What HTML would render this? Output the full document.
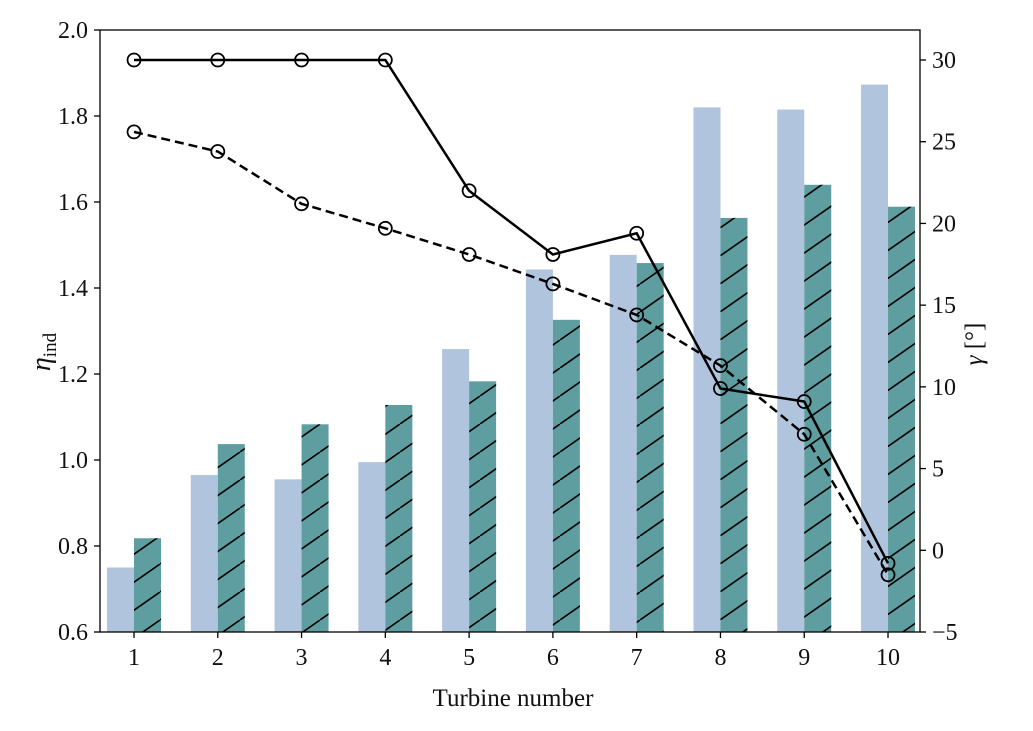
<!DOCTYPE html>
<html><head><meta charset="utf-8"><style>
body{margin:0;background:#fff}
svg text{font-family:"Liberation Serif",serif;fill:#111}
</style></head><body>
<svg id="chart" width="1033" height="726" xmlns="http://www.w3.org/2000/svg">
<defs>
<pattern id="hatch" patternUnits="userSpaceOnUse" width="40" height="28" x="0" y="4">
<path d="M0,28 L40,0 M-40,28 L0,0 M40,28 L80,0" stroke="#000" stroke-width="1.6"/>
</pattern>
</defs>
<g id="bars"></g><g id="lines"></g><g id="axes"></g>
</svg>
<script>
const turbines=[1,2,3,4,5,6,7,8,9,10];
const etaBlue=[0.75,0.965,0.955,0.995,1.258,1.443,1.477,1.82,1.815,1.873];
const etaTeal=[0.818,1.037,1.083,1.128,1.183,1.326,1.458,1.563,1.64,1.589];
const gammaSolid=[30,30,30,30,22.0,18.1,19.4,9.9,9.1,-0.8];
const gammaDashed=[25.6,24.4,21.2,19.7,18.1,16.3,14.4,11.3,7.1,-1.5];
const leftTicks=[0.6,0.8,1.0,1.2,1.4,1.6,1.8,2.0];
const rightTicks=[-5,0,5,10,15,20,25,30];
const L=100,R=920,T=30,B=632;
const x=v=>134+(v-1)*83.78;
const yL=v=>B-(v-0.6)/1.4*(B-T);
const yR=v=>B-(v+5)*16.343;
const NS="http://www.w3.org/2000/svg";
function mk(tag,attrs,parent){const e=document.createElementNS(NS,tag);for(const k in attrs)e.setAttribute(k,attrs[k]);parent.appendChild(e);return e;}
const bars=document.getElementById('bars'),lines=document.getElementById('lines'),axes=document.getElementById('axes');
const bw=27;
turbines.forEach((t,i)=>{
 let b=mk('rect',{x:x(t)-bw,y:yL(etaBlue[i]),width:bw,height:B-yL(etaBlue[i]),fill:'#b0c4de'},bars);
 
 
 let c=mk('rect',{x:x(t),y:yL(etaTeal[i]),width:bw,height:B-yL(etaTeal[i]),fill:'#5f9ea0'},bars);
 
 
 let h=mk('rect',{x:x(t),y:yL(etaTeal[i]),width:bw,height:B-yL(etaTeal[i]),fill:'url(#hatch)'},bars);
 
 
});
function series(vals,dash,name){
 const p=mk('polyline',{points:turbines.map((t,i)=>x(t)+','+yR(vals[i])).join(' '),fill:'none',stroke:'#000','stroke-width':2.5,'stroke-dasharray':dash},lines);
 
 
 turbines.forEach((t,i)=>{
  const m=mk('circle',{cx:x(t),cy:yR(vals[i]),r:6.5,fill:'none',stroke:'#000','stroke-width':1.8},lines);
  
  
 });
}
series(gammaDashed,'9,5','gamma-dashed');
series(gammaSolid,'none','gamma-solid');
const frame=mk('rect',{x:L,y:T,width:R-L,height:B-T,fill:'none',stroke:'#000','stroke-width':1.3},axes);


leftTicks.forEach(v=>{
 mk('line',{x1:L-6,x2:L,y1:yL(v),y2:yL(v),stroke:'#000','stroke-width':1.3},axes);
 const t=mk('text',{x:L-12,y:yL(v)+8,'text-anchor':'end','font-size':24},axes);
 t.textContent=v.toFixed(1);
 
 
});
rightTicks.forEach(v=>{
 mk('line',{x1:R,x2:R+6,y1:yR(v),y2:yR(v),stroke:'#000','stroke-width':1.3},axes);
 const t=mk('text',{x:R+12,y:yR(v)+8,'font-size':24},axes);
 t.textContent=v<0?'\u2212'+(-v):String(v);
 
 
});
turbines.forEach(v=>{
 mk('line',{x1:x(v),x2:x(v),y1:B,y2:B+6,stroke:'#000','stroke-width':1.3},axes);
 const t=mk('text',{x:x(v),y:B+33,'text-anchor':'middle','font-size':24},axes);
 t.textContent=v;
 
 
});
</script>
<svg style="position:absolute;left:0;top:0" width="1033" height="726" xmlns="http://www.w3.org/2000/svg">
<text x="513" y="706" text-anchor="middle" font-size="25" style="font-family:'Liberation Serif',serif">Turbine number</text>
<text transform="translate(50,352) rotate(-90)" text-anchor="middle" font-size="28" style="font-family:'Liberation Serif',serif;font-style:italic">η<tspan font-size="19" font-style="normal" dy="6">ind</tspan></text>
<text transform="translate(982,344) rotate(-90)" text-anchor="middle" font-size="25" style="font-family:'Liberation Serif',serif"><tspan font-style="italic">γ</tspan> [°]</text>
</svg>
</body></html>
